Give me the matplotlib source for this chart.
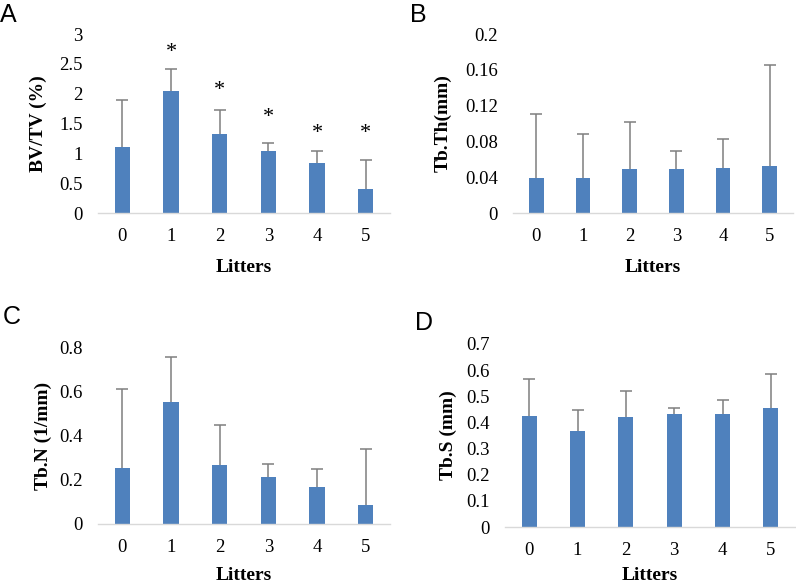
import matplotlib
matplotlib.use("Agg")
import matplotlib.pyplot as plt
import matplotlib.transforms as mtransforms
import numpy as np

# Data
litters = [0, 1, 2, 3, 4, 5]

bvtv_mean = [1.11, 2.05, 1.32, 1.04, 0.84, 0.41]
bvtv_sd = [0.78, 0.36, 0.41, 0.14, 0.20, 0.48]
bvtv_star = [None, 2.78, 2.14, 1.69, 1.42, 1.42]

tbth_mean = [0.039, 0.039, 0.0495, 0.0495, 0.050, 0.053]
tbth_sd = [0.072, 0.049, 0.0525, 0.0195, 0.033, 0.112]

tbn_mean = [0.255, 0.552, 0.266, 0.212, 0.165, 0.087]
tbn_sd = [0.357, 0.203, 0.181, 0.057, 0.083, 0.254]

tbs_mean = [0.425, 0.369, 0.419, 0.433, 0.434, 0.456]
tbs_sd = [0.140, 0.079, 0.100, 0.024, 0.051, 0.131]

bvtv_ticks = [0, 0.5, 1, 1.5, 2, 2.5, 3]
tbth_ticks = [0, 0.04, 0.08, 0.12, 0.16, 0.2]
tbn_ticks = [0, 0.2, 0.4, 0.6, 0.8]
tbs_ticks = [0, 0.1, 0.2, 0.3, 0.4, 0.5, 0.6, 0.7]

bar_color = "#4F81BD"
err_color = "#7F7F7F"
axis_color = "#D9D9D9"
serif = "Liberation Serif"

W, H = 796, 584
fig = plt.figure(figsize=(W / 100, H / 100), dpi=100)


def px_axes(x0, x1, y0, y1):
    # pixel box -> figure fraction
    return fig.add_axes([x0 / W, 1 - y1 / H, (x1 - x0) / W, (y1 - y0) / H])


def bar_panel(ax, means, sds, ticks, ylabel, ylab_x, xlab_y):
    x = np.arange(len(litters))
    tops = np.array(means) + np.array(sds)
    # plus-only error bars: stem from bar top plus a cap
    ax.vlines(x, means, tops, color=err_color, lw=1.1, zorder=1)
    ax.plot(x, tops, ls="none", marker="_", ms=8, mew=1.1, color=err_color, zorder=1)
    ax.bar(x, means, width=0.31, color=bar_color, zorder=2)
    ax.set_xlim(-0.5, len(litters) - 0.5)
    ax.set_ylim(ticks[0], ticks[-1])
    ax.set_xticks(x)
    ax.set_xticklabels([str(l) for l in litters])
    ax.set_yticks(ticks)
    ax.set_yticklabels([f"{t:g}" for t in ticks])
    for side in ["top", "right", "left"]:
        ax.spines[side].set_visible(False)
    ax.spines["bottom"].set_color(axis_color)
    ax.spines["bottom"].set_linewidth(1.0)
    ax.tick_params(axis="both", length=0, labelsize=13.5)
    ax.tick_params(axis="x", pad=11)
    ax.tick_params(axis="y", pad=11)
    for lab in ax.get_xticklabels() + ax.get_yticklabels():
        lab.set_fontfamily(serif)
    ax.text(ylab_x, 0.5, ylabel, transform=ax.transAxes, rotation=90,
            ha="center", va="center", fontsize=14, fontweight="bold", family=serif)
    ax.text(0.5, xlab_y, "Litters", transform=ax.transAxes,
            ha="center", va="baseline", fontsize=14, fontweight="bold", family=serif)


axA = px_axes(98, 390, 34, 213)
bar_panel(axA, bvtv_mean, bvtv_sd, bvtv_ticks, "BV/TV (%)", -0.205, -0.33)
star_shift = mtransforms.ScaledTranslation(0, -4 / 72, fig.dpi_scale_trans)
for i, s in enumerate(bvtv_star):
    if s is not None:
        axA.text(i, s, "*", ha="center", va="center", fontsize=16, family=serif,
                 transform=axA.transData + star_shift)

axB = px_axes(513, 793, 34, 213)
bar_panel(axB, tbth_mean, tbth_sd, tbth_ticks, "Tb.Th(mm)", -0.25, -0.33)

axC = px_axes(98, 390, 347, 524)
bar_panel(axC, tbn_mean, tbn_sd, tbn_ticks, "Tb.N (1/mm)", -0.188, -0.315)

axD = px_axes(505, 795, 344, 527)
bar_panel(axD, tbs_mean, tbs_sd, tbs_ticks, "Tb.S (mm)", -0.197, -0.29)

# panel letters
for lx, ly, letter in [(0, 22, "A"), (410, 22, "B"), (3, 324, "C"), (415, 330, "D")]:
    fig.text(lx / W, 1 - ly / H, letter, ha="left", va="baseline",
             fontsize=18, family="Liberation Sans")

fig.savefig("out.png", dpi=100)
